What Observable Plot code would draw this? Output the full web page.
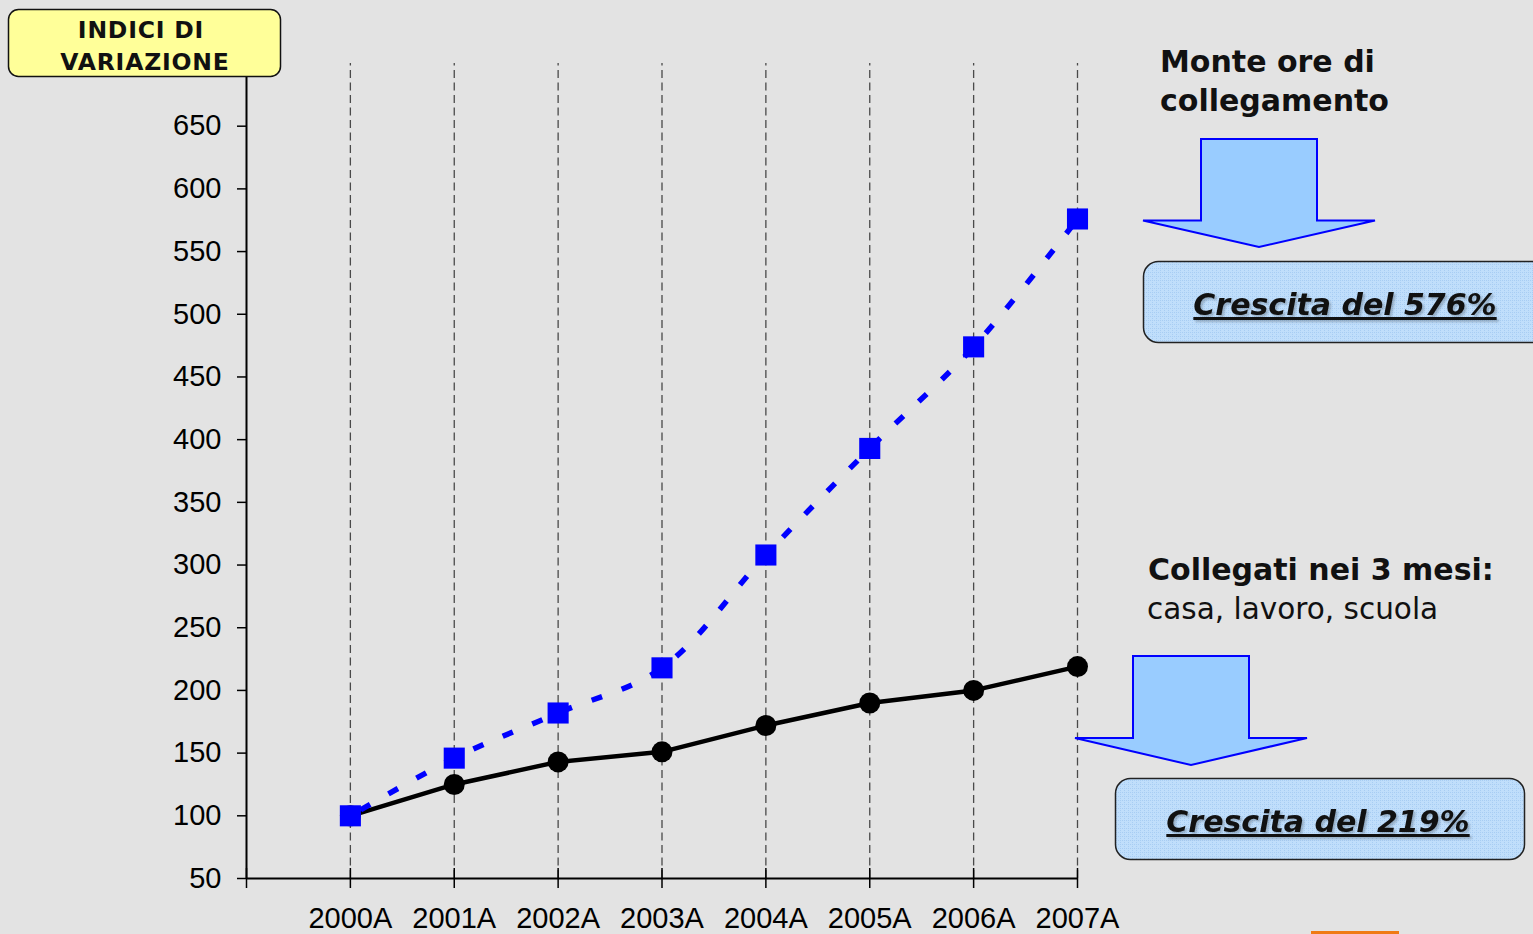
<!DOCTYPE html>
<html>
<head>
<meta charset="utf-8">
<script src="https://cdn.jsdelivr.net/npm/d3@7"></script>
<script src="https://cdn.jsdelivr.net/npm/@observablehq/plot@0.6"></script>
<style>
  html, body { margin: 0; padding: 0; background: #e3e3e3; overflow: hidden; }
  #wrap { position: relative; width: 1533px; height: 934px; }
  #wrap > svg { position: absolute; left: 0; top: 0; }
  .ann { font-family: "DejaVu Sans", Verdana, sans-serif; }
</style>
</head>
<body>
<div id="wrap"></div>
<script>
// ---- data ----
const years = ["2000A", "2001A", "2002A", "2003A", "2004A", "2005A", "2006A", "2007A"];
const monteOre = [100, 146, 182, 218, 308, 393, 474, 576];   // Monte ore di collegamento
const collegati = [100, 125, 143, 151, 172, 190, 200, 219];  // Collegati nei 3 mesi
const yTicks = [50, 100, 150, 200, 250, 300, 350, 400, 450, 500, 550, 600, 650];

const idx = years.map((_, i) => i);
const tickIdx = [-1, ...idx];
const blue = idx.map(i => ({i, v: monteOre[i]}));
const black = idx.map(i => ({i, v: collegati[i]}));

const W = 1533, H = 934;
const chart = Plot.plot({
  width: W,
  height: H,
  marginLeft: 246,
  marginRight: 456,
  marginTop: 63,
  marginBottom: 56,
  style: {background: "transparent", fontFamily: "'Liberation Sans', Arial, sans-serif", fontSize: "29px", color: "black"},
  x: {type: "linear", domain: [-1, 7]},
  y: {domain: [50, 700]},
  marks: [
    Plot.ruleX(idx, {x: d => d, y1: 50, y2: 700, stroke: "#4a4a4a", strokeWidth: 1.3, strokeDasharray: "8,4.5"}),
    Plot.axisY({ticks: yTicks, tickSize: 9, tickPadding: 16, fontSize: 29, label: null, strokeWidth: 1.5}),
    Plot.axisX({ticks: tickIdx, tickFormat: d => years[d] ?? "", tickSize: 10, tickPadding: 19, fontSize: 29, label: null, strokeWidth: 1.5}),
    Plot.ruleX(tickIdx, {x: d => d, y1: 50, y2: 58, stroke: "black", strokeWidth: 1.5}),
    Plot.ruleX([-1], {y1: 50, y2: 700, stroke: "black", strokeWidth: 2}),
    Plot.ruleY([50], {x1: -1, x2: 7, stroke: "black", strokeWidth: 2}),
    Plot.line(black, {x: "i", y: "v", stroke: "black", strokeWidth: 4.5}),
    Plot.dot(black, {x: "i", y: "v", r: 10.5, fill: "black", stroke: "none"}),
    Plot.line(blue, {x: "i", y: "v", stroke: "#0000ff", strokeWidth: 5.5, strokeDasharray: "11,21", strokeDashoffset: -12, curve: "catmull-rom", strokeLinecap: "butt"}),
    Plot.dot(blue, {x: "i", y: "v", r: 11.9, symbol: "square", fill: "#0000ff", stroke: "none"})
  ]
});
document.getElementById("wrap").appendChild(chart);

// ---- annotations overlay ----
const ns = "http://www.w3.org/2000/svg";
const ov = d3.select("#wrap").append("svg")
  .attr("xmlns", ns).attr("width", W).attr("height", H)
  .style("pointer-events", "none");

const defs = ov.append("defs");
const pat = defs.append("pattern").attr("id", "grid").attr("width", 4).attr("height", 4).attr("patternUnits", "userSpaceOnUse");
pat.append("rect").attr("width", 4).attr("height", 4).attr("fill", "#c0defb");
pat.append("path").attr("d", "M0,0.5H4M0.5,0V4").attr("stroke", "#a8cdf3").attr("stroke-width", 1).attr("stroke-dasharray", "1,1");

// title box
ov.append("rect").attr("x", 8.5).attr("y", 9.5).attr("width", 272).attr("height", 67).attr("rx", 10)
  .attr("fill", "#ffff99").attr("stroke", "#111").attr("stroke-width", 1.5);
const t = ov.append("text").attr("class", "ann").attr("text-anchor", "middle")
  .attr("font-weight", "bold").attr("font-size", 23.5).attr("letter-spacing", 0.8).attr("fill", "#111");
t.append("tspan").attr("x", 141).attr("y", 38).text("INDICI DI");
t.append("tspan").attr("x", 145).attr("y", 70).text("VARIAZIONE");

// Monte ore label
const m = ov.append("text").attr("class", "ann").attr("font-weight", "bold").attr("font-size", 30).attr("fill", "#111");
m.append("tspan").attr("x", 1160).attr("y", 72).text("Monte ore di");
m.append("tspan").attr("x", 1160).attr("y", 111).text("collegamento");

// Collegati label
ov.append("text").attr("class", "ann").attr("x", 1148).attr("y", 580)
  .attr("font-weight", "bold").attr("font-size", 30).attr("fill", "#111").text("Collegati nei 3 mesi:");
ov.append("text").attr("class", "ann").attr("x", 1147).attr("y", 619)
  .attr("font-size", 29.5).attr("fill", "#111").text("casa, lavoro, scuola");

// arrows
function arrow(l, r, top, sb, hl, hr, tipx, tipy) {
  ov.append("path")
    .attr("d", `M${l},${top}H${r}V${sb}H${hr}L${tipx},${tipy}L${hl},${sb}H${l}Z`)
    .attr("fill", "#99ccff").attr("stroke", "#0000ff").attr("stroke-width", 2).attr("stroke-linejoin", "miter");
}
arrow(1201, 1317, 139, 220.5, 1143, 1375, 1259, 247);
arrow(1133, 1249, 656, 738, 1075, 1307, 1191, 765);

// growth boxes
function growthBox(x, y, w, h, cx, by, label) {
  ov.append("rect").attr("x", x).attr("y", y).attr("width", w).attr("height", h).attr("rx", 15)
    .attr("fill", "url(#grid)").attr("stroke", "#222").attr("stroke-width", 1.5);
  ov.append("text").attr("class", "ann").attr("x", cx).attr("y", by).attr("text-anchor", "middle")
    .attr("font-weight", "bold").attr("font-style", "italic").attr("font-size", 30)
    .attr("text-decoration", "underline").attr("fill", "#111")
    .style("filter", "drop-shadow(2px 2px 1px rgba(0,0,0,0.22))")
    .text(label);
}
growthBox(1143.5, 261.5, 420, 81, 1345, 315, "Crescita del 576%");
growthBox(1115.5, 778.5, 409, 81, 1318, 832, "Crescita del 219%");

// orange sliver at bottom
ov.append("rect").attr("x", 1311).attr("y", 931).attr("width", 88).attr("height", 4).attr("fill", "#f07a14");
</script>
</body>
</html>
